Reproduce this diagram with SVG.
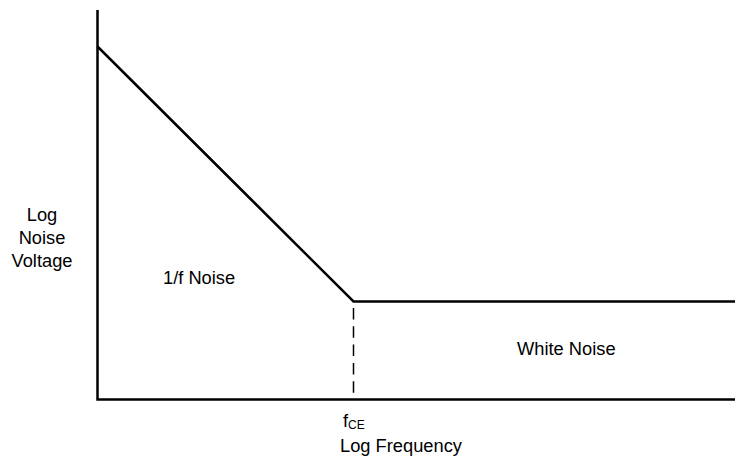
<svg xmlns="http://www.w3.org/2000/svg" width="735" height="459" viewBox="0 0 735 459">
<style>
.ax{stroke:#000;stroke-width:2.5;fill:none}
.dash{stroke:#000;stroke-width:1.5;stroke-dasharray:11.5 6.8;fill:none}
text{font-family:"Liberation Sans",Arial,sans-serif;font-size:18.3px;fill:#000}
.c{text-anchor:middle}
</style>
<rect width="735" height="459" fill="#fff"/>
<g id="connectors">
<polyline class="ax" points="97.5,10 97.5,399.5 735,399.5"/>
<polyline class="ax" points="97.5,46.5 353.5,301.5 735,301.5"/>
<line class="dash" x1="353.5" y1="308" x2="353.5" y2="399"/>
</g>
<g id="y-label">
<text class="c" x="42" y="221">Log</text>
<text class="c" x="42" y="244">Noise</text>
<text class="c" x="42" y="267">Voltage</text>
</g>
<g id="one-over-f">
<text x="163" y="284">1/f Noise</text>
</g>
<g id="white-noise">
<text x="517" y="355">White Noise</text>
</g>
<g id="fce">
<text x="343" y="427">f<tspan font-size="12" dy="2">CE</tspan></text>
</g>
<g id="x-label">
<text x="340" y="452">Log Frequency</text>
</g>
</svg>
